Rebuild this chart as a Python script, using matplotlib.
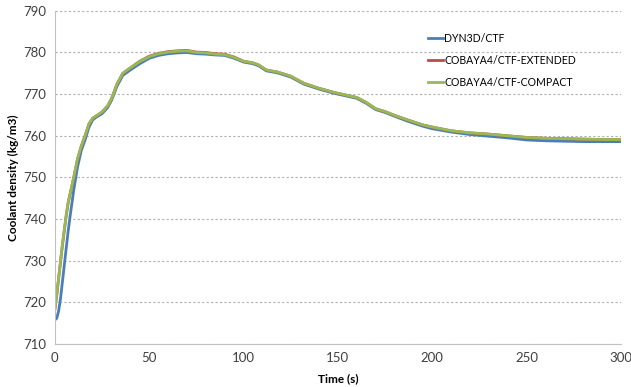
import matplotlib
matplotlib.use("Agg")
import matplotlib.pyplot as plt

plt.rcParams['font.family'] = ['Lato', 'DejaVu Sans']

# time (s)
time = [0, 1, 2, 3, 4, 5, 6, 7, 8, 10, 12, 14, 16, 18, 20, 22, 25, 28, 30, 33,
        36, 40, 45, 50, 55, 60, 65, 70, 75, 80, 85, 90, 95, 100, 105, 108, 112,
        118, 125, 132, 140, 148, 155, 160, 165, 170, 175, 180, 187, 195, 200,
        210, 220, 230, 240, 250, 260, 270, 280, 290, 300]

# coolant density (kg/m3)
dyn3d = [715.8, 716.2, 718.0, 721.0, 725.0, 729.0, 733.0, 737.0, 740.5, 747.0,
         752.5, 756.5, 759.0, 762.0, 763.8, 764.5, 765.3, 766.8, 768.5, 772.0,
         774.5, 775.8, 777.3, 778.6, 779.3, 779.7, 779.9, 780.0, 779.7, 779.6,
         779.4, 779.3, 778.6, 777.7, 777.3, 776.8, 775.6, 775.1, 774.1, 772.4,
         771.2, 770.2, 769.5, 769.0, 767.8, 766.3, 765.6, 764.7, 763.5, 762.3,
         761.7, 760.9, 760.3, 759.9, 759.5, 759.0, 758.8, 758.7, 758.6, 758.6,
         758.6]

extended = [718.4, 721.8, 725.8, 729.8, 733.8, 737.3, 740.8, 743.8, 745.9, 750.0,
            754.4, 757.5, 760.0, 762.8, 764.2, 764.8, 765.7, 767.2, 768.9, 772.5,
            775.0, 776.3, 777.9, 779.1, 779.8, 780.2, 780.4, 780.5, 780.1, 780.0,
            779.7, 779.6, 778.9, 777.9, 777.5, 777.0, 775.8, 775.3, 774.3, 772.6,
            771.4, 770.4, 769.7, 769.2, 768.0, 766.5, 765.8, 764.9, 763.8, 762.6,
            762.1, 761.2, 760.7, 760.4, 760.0, 759.6, 759.4, 759.3, 759.2, 759.1,
            759.1]

compact = [718.5, 722.0, 726.0, 730.0, 734.0, 737.5, 741.0, 744.0, 746.0, 750.0,
           754.5, 757.5, 760.0, 762.8, 764.2, 764.8, 765.7, 767.2, 768.9, 772.5,
           775.0, 776.3, 777.8, 779.0, 779.7, 780.1, 780.3, 780.4, 780.0, 779.9,
           779.6, 779.5, 778.8, 777.9, 777.5, 777.0, 775.8, 775.3, 774.3, 772.6,
           771.4, 770.4, 769.7, 769.2, 768.0, 766.5, 765.8, 764.9, 763.8, 762.6,
           762.1, 761.2, 760.7, 760.4, 760.0, 759.6, 759.4, 759.3, 759.2, 759.1,
           759.1]

labels = ["DYN3D/CTF", "COBAYA4/CTF-EXTENDED", "COBAYA4/CTF-COMPACT"]
colors = ["#4a7ebb", "#be4b48", "#98b954"]

fig = plt.figure(figsize=(6.31, 3.87), dpi=100)
ax = fig.add_axes([0.087, 0.111, 0.897, 0.861])

for series, lab, col in zip([dyn3d, extended, compact], labels, colors):
    ax.plot(time, series, color=col, lw=2, label=lab)

ax.set_xlim(0, 300)
ax.set_ylim(710, 790)
ax.set_xticks(range(0, 301, 50))
ax.set_yticks(range(710, 791, 10))

# excel style grid and axes
ax.yaxis.grid(True, linestyle=(0, (2, 2)), color="#b0b0b0", lw=0.8)
ax.set_axisbelow(True)
for s in ["top", "right"]:
    ax.spines[s].set_visible(False)
for s in ["left", "bottom"]:
    ax.spines[s].set_color("#c0c0c0")
ax.tick_params(length=0, labelsize=9.5, colors="#404040", pad=6)

ax.set_xlabel("Time (s)", fontsize=8.5, fontweight="bold", labelpad=6)
ax.set_ylabel("Coolant density (kg/m3)", fontsize=8.5, fontweight="bold", labelpad=3)

ax.legend(loc="upper left", bbox_to_anchor=(0.642, 0.962), frameon=False,
          fontsize=7.6, handlelength=1.4, handletextpad=0.15, labelspacing=1.05)

fig.savefig("out.png", dpi=100)
